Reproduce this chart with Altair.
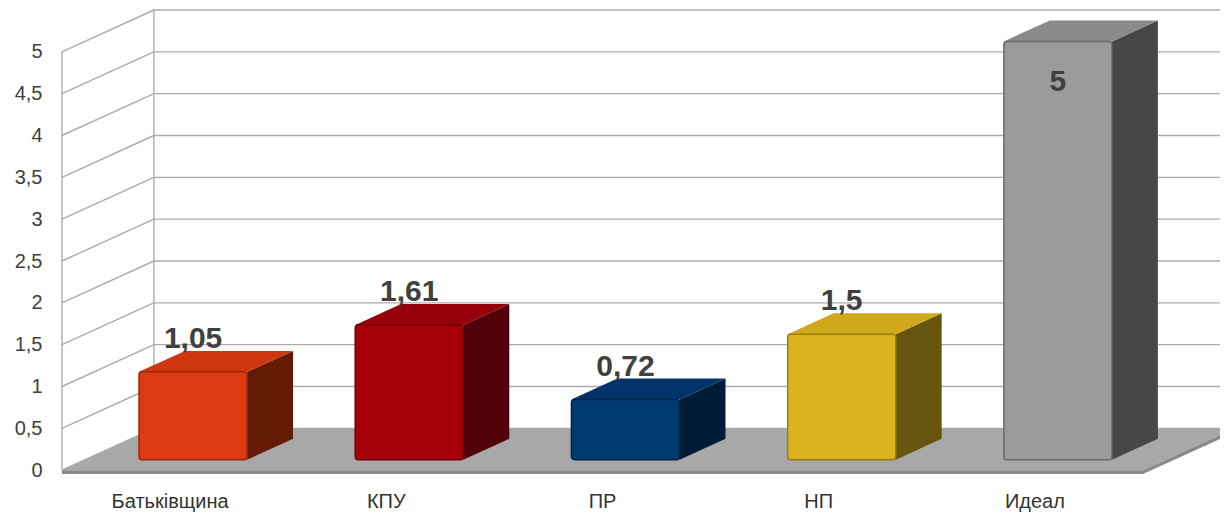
import altair as alt
import pandas as pd

# ---- data ----
categories = ["Батьківщина", "КПУ", "ПР", "НП", "Идеал"]
values = [1.05, 1.61, 0.72, 1.5, 5]
value_labels = ["1,05", "1,61", "0,72", "1,5", "5"]
front_colors = ["#dc3a10", "#a6000a", "#003a70", "#dab31f", "#9b9b9b"]
top_colors = ["#cf3610", "#95000a", "#00336a", "#cfa81c", "#8a8a8a"]
side_colors = ["#641b06", "#52000a", "#001c38", "#66550f", "#474747"]
edge_colors = ["#9a2a0a", "#6e0008", "#002448", "#9a7d14", "#6a6a6a"]
tick_values = [0, 0.5, 1, 1.5, 2, 2.5, 3, 3.5, 4, 4.5, 5]

# ---- 3D geometry (in data units) ----
DU, DV = 0.425, 0.5      # floor depth in category units / value units
HALF = 0.25              # half width of bar front face (category units)
D0, D1 = 0.25, 0.75      # depth fraction of bar front / back
XMAX = 5.356
FONT = "Liberation Sans"

XS = alt.Scale(domain=[0, XMAX], nice=False, zero=False)
YS = alt.Scale(domain=[-0.5, 5.5], nice=False, zero=False)
n = len(categories)

yaxis = alt.Axis(values=tick_values, domain=False, ticks=False, grid=False,
                 labelPadding=20, labelFontSize=20, labelFont=FONT, labelColor="#404040",
                 labelExpr="replace(format(datum.value, '~g'), '.', ',')", title=None)


def Y(field):
    return alt.Y(field, scale=YS, axis=yaxis)


def X(field):
    return alt.X(field, scale=XS, axis=None)


# back wall horizontal gridlines
back_grid = pd.DataFrame({"x": [DU] * len(tick_values),
                          "x2": [XMAX + 0.2] * len(tick_values),
                          "y": [t + DV for t in tick_values]})
# left wall diagonals
diag = pd.DataFrame({"x": [0.0] * len(tick_values), "x2": [DU] * len(tick_values),
                     "y": tick_values, "y2": [t + DV for t in tick_values]})
# verticals: front axis and back corner
verts = pd.DataFrame({"x": [0.0, DU], "y": [0.0, DV], "y2": [max(tick_values), max(tick_values) + DV]})

# floor
floor = pd.DataFrame({"v": [0.0, DV], "xa": [0.0, DU], "xb": [n, n + DU]})
TH = 0.045
floor_front = pd.DataFrame({"x": [0.0], "x2": [float(n)], "y": [-TH], "y2": [0.0]})
floor_side = pd.DataFrame({"u": [float(n), n + DU], "ya": [-TH, DV - TH], "yb": [0.0, DV]})

# bars
front_rows, top_rows, side_rows, lab_rows = [], [], [], []
for i, (c, v) in enumerate(zip(categories, values)):
    cx = i + 0.5
    uL = cx - HALF + D0 * DU
    uR = cx + HALF + D0 * DU
    vb = D0 * DV
    dd = (D1 - D0)
    front_rows.append({"cat": c, "x": uL, "x2": uR, "y": vb, "y2": v + vb,
                       "fill": front_colors[i], "edge": edge_colors[i]})
    top_rows.append({"cat": c, "v": v + vb, "xa": uL, "xb": uR, "fill": top_colors[i]})
    top_rows.append({"cat": c, "v": v + vb + dd * DV, "xa": uL + dd * DU, "xb": uR + dd * DU, "fill": top_colors[i]})
    side_rows.append({"cat": c, "u": uR, "ya": vb, "yb": v + vb, "fill": side_colors[i]})
    side_rows.append({"cat": c, "u": uR + dd * DU, "ya": vb + dd * DV, "yb": v + vb + dd * DV, "fill": side_colors[i]})
    lab_rows.append({"cat": c, "x": cx + D0 * DU, "value": v, "label": value_labels[i], "cx": cx})

front_df = pd.DataFrame(front_rows)
top_df = pd.DataFrame(top_rows)
side_df = pd.DataFrame(side_rows)
lab_df = pd.DataFrame(lab_rows)

GRID = "#ababab"

l_back = alt.Chart(back_grid).mark_rule(color=GRID, strokeWidth=1.4).encode(
    x=X("x:Q"), x2="x2:Q", y=Y("y:Q"))
l_diag = alt.Chart(diag).mark_rule(color=GRID, strokeWidth=1.4).encode(
    x=X("x:Q"), x2="x2:Q", y=Y("y:Q"), y2="y2:Q")
l_vert = alt.Chart(verts).mark_rule(color=GRID, strokeWidth=1.4).encode(
    x=X("x:Q"), y=Y("y:Q"), y2="y2:Q")
l_floor = alt.Chart(floor).mark_area(orient="horizontal", color="#a8a8a8").encode(
    y=Y("v:Q"), x=X("xa:Q"), x2="xb:Q")
l_ff = alt.Chart(floor_front).mark_rect(color="#8a8a8a").encode(
    x=X("x:Q"), x2="x2:Q", y=Y("y:Q"), y2="y2:Q")
l_fs = alt.Chart(floor_side).mark_area(orient="vertical", color="#8a8a8a").encode(
    x=X("u:Q"), y=Y("ya:Q"), y2="yb:Q")

l_side = alt.Chart(side_df).mark_area(orient="vertical").encode(
    x=X("u:Q"), y=Y("ya:Q"), y2="yb:Q",
    fill=alt.Fill("fill:N", scale=None), detail="cat:N")
l_top = alt.Chart(top_df).mark_area(orient="horizontal").encode(
    y=Y("v:Q"), x=X("xa:Q"), x2="xb:Q",
    fill=alt.Fill("fill:N", scale=None), detail="cat:N")
l_front = alt.Chart(front_df).mark_rect(cornerRadius=3, strokeWidth=1.5).encode(
    x=X("x:Q"), x2="x2:Q", y=Y("y:Q"), y2="y2:Q",
    fill=alt.Fill("fill:N", scale=None),
    stroke=alt.Stroke("edge:N", scale=None))

l_vals = alt.Chart(lab_df).transform_calculate(
    ly="datum.value >= 4.5 ? datum.value - 0.47 : datum.value + 0.41"
).mark_text(font=FONT, fontSize=30, fontWeight="bold", color="#404040",
            align="center", baseline="alphabetic").encode(
    x=X("x:Q"), y=Y("ly:Q"), text="label:N")

l_cats = alt.Chart(lab_df).transform_calculate(ly="-0.383").mark_text(
    font=FONT, fontSize=20, color="#333333", align="center", baseline="middle").encode(
    x=X("cx:Q"), y=Y("ly:Q"), text="cat:N")

chart = alt.layer(l_back, l_diag, l_vert, l_floor, l_ff, l_fs,
                  l_side, l_top, l_front, l_vals, l_cats).properties(
    width=1158, height=502,
    padding={"left": 54, "top": 2, "right": 0, "bottom": 0},
    autosize=alt.AutoSizeParams(type="none"),
    background="white"
).configure_view(stroke=None)

chart.save("out.html", embed_options={"renderer": "svg", "actions": False})
